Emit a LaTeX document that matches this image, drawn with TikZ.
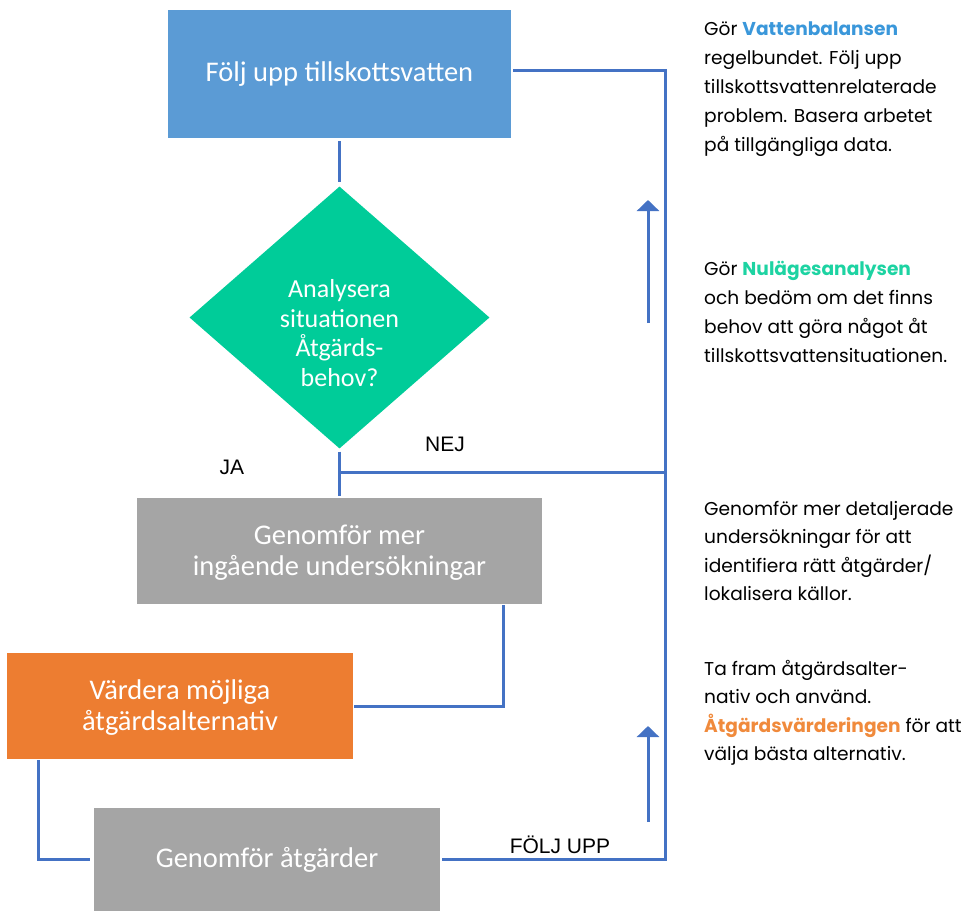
\documentclass[tikz,border=0pt]{standalone}
\usepackage{fontspec}
\setmainfont{Carlito}
\newfontfamily\sidefont{Poppins}
\newfontfamily\labfont{Liberation Sans}
\usetikzlibrary{shapes.geometric,arrows.meta}
\definecolor{boxblue}{HTML}{5B9BD5}
\definecolor{boxgreen}{HTML}{00CC99}
\definecolor{boxgrey}{HTML}{A5A5A5}
\definecolor{boxorange}{HTML}{ED7D31}
\definecolor{linecol}{HTML}{4472C4}
\definecolor{hlblue}{HTML}{3A97DA}
\definecolor{hlgreen}{HTML}{1DD3A2}
\definecolor{hlorange}{HTML}{F08A3C}
\tikzset{
  flowbox/.style={rectangle, inner sep=0pt, text=white, align=center,
    font=\fontsize{28.5}{31}\selectfont},
  decision/.style={diamond, inner sep=0pt, fill=boxgreen},
  dtext/.style={inner sep=0pt, text=white, align=center,
    font=\fontsize{26}{29.5}\selectfont},
  conn/.style={draw=linecol, line width=3pt},
  lab/.style={font=\labfont\fontsize{21}{24}\selectfont, text=black, inner sep=0pt},
  side/.style={font=\sidefont\fontsize{18.6}{29}\selectfont, text=black, anchor=base west, inner sep=0pt},
  tip/.style={-{Triangle[width=22pt,length=11pt]}}
}
\begin{document}
\begin{tikzpicture}[x=1pt,y=-1pt]
\useasboundingbox (0,0) rectangle (974,911);
% boxes
\node[flowbox, fill=boxblue, minimum width=343pt, minimum height=128pt] (b1) at (339.5,74) {Följ upp tillskottsvatten};
\node[decision, minimum width=300pt, minimum height=262pt] (d) at (339.5,317.5) {};
\node[dtext] (dt) at (339.5,333) {Analysera\\situationen\\Åtgärds-\\behov?};
\node[flowbox, fill=boxgrey, minimum width=405pt, minimum height=106pt] (g1) at (339.5,551) {};
\node[flowbox] (g1t) at (339.5,553) {Genomför mer\\ingående undersökningar};
\node[flowbox, fill=boxorange, minimum width=346pt, minimum height=106pt] (o) at (180,706) {};
\node[flowbox] (ot) at (180,707.5) {Värdera möjliga\\åtgärdsalternativ};
\node[flowbox, fill=boxgrey, minimum width=346pt, minimum height=103pt] (g2) at (267,859.5) {\raisebox{-2pt}{Genomför åtgärder}};
% coordinates
\coordinate (jn) at (339.5,472);
\coordinate (rt) at (665,70);
\coordinate (rb) at (665,859.5);
\coordinate (g1o) at (503,604);
\coordinate (oo) at (38,759);
\coordinate (a1s) at (648,323);
\coordinate (a1e) at (648,200);
\coordinate (a2s) at (648,822);
\coordinate (a2e) at (648,726);
% connectors
\draw[conn, shorten <=3pt, shorten >=4pt] (b1) -- (d);
\draw[conn, shorten <=3pt, shorten >=2pt] (d) -- (g1);
\draw[conn] (jn) -- (jn -| rt);
\draw[conn, shorten <=2pt, shorten >=2pt] (g2.east) -- (rb) -- (rt) -- (rt -| b1.east);
\draw[conn, shorten <=1pt, shorten >=1pt] (g1o) |- (o.east);
\draw[conn, shorten <=1pt, shorten >=4pt] (oo) |- (g2.west);
\draw[conn, tip] (a1s) -- (a1e);
\draw[conn, tip] (a2s) -- (a2e);
% labels
\node[lab] (ja) at (232,467) {JA};
\node[lab] (nej) at (445,444) {NEJ};
\node[lab] (fu) at (560,845) {FÖLJ UPP};
% side texts
\node[side] (s1a) at (704,35) {Gör \textcolor{hlblue}{\bfseries Vattenbalansen}};
\node[side] (s1b) at (704,64) {regelbundet. Följ upp};
\node[side] (s1c) at (704,93) {tillskottsvattenrelaterade};
\node[side] (s1d) at (704,122) {problem. Basera arbetet};
\node[side] (s1e) at (704,151) {på tillgängliga data.};
\node[side] (s2a) at (704,275) {Gör \textcolor{hlgreen}{\bfseries Nulägesanalysen}};
\node[side] (s2b) at (704,304) {och bedöm om det finns};
\node[side] (s2c) at (704,333) {behov att göra något åt};
\node[side] (s2d) at (704,362) {tillskottsvattensituationen.};
\node[side] (s3a) at (704,515) {Genomför mer detaljerade};
\node[side] (s3b) at (704,543) {undersökningar för att};
\node[side] (s3c) at (704,572) {identifiera rätt åtgärder/};
\node[side] (s3d) at (704,600) {lokalisera källor.};
\node[side] (s4a) at (704,675) {Ta fram åtgärdsalter-};
\node[side] (s4b) at (704,703) {nativ och använd.};
\node[side] (s4c) at (704,732) {\textcolor{hlorange}{\bfseries Åtgärdsvärderingen} för att};
\node[side] (s4d) at (704,760) {välja bästa alternativ.};
\end{tikzpicture}
\end{document}
